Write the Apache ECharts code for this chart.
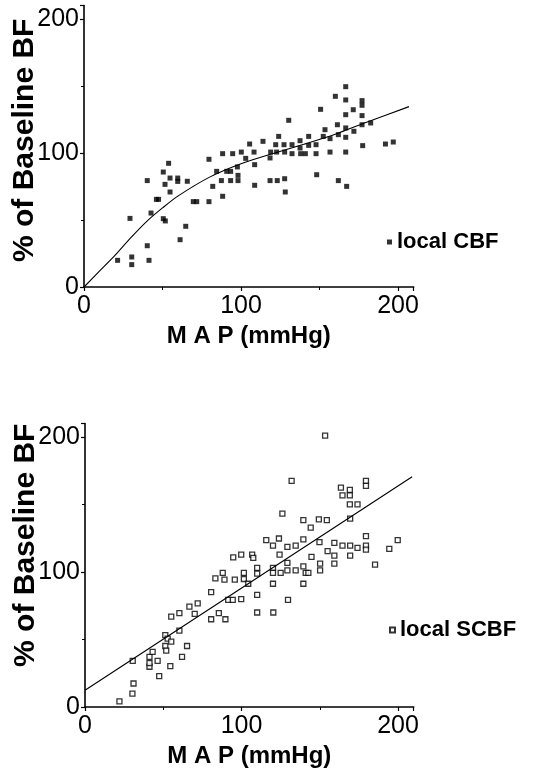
<!DOCTYPE html>
<html><head><meta charset="utf-8">
<script src="https://cdn.jsdelivr.net/npm/echarts@6/dist/echarts.min.js"></script>
<style>html,body{margin:0;padding:0;background:#fff}#c{width:537px;height:778px}</style>
</head><body><div id="c"></div>
<script>
// Top panel: local CBF (MAP mmHg, % of baseline BF)
const cbfMap = [21.4,30.4,30.4,29.3,41.4,40.3,40.3,42.7,46.1,47.5,50.5,51.8,50.5,51.6,53.9,54.8,59.7,59.7,54.8,61.2,64.8,65.8,69.6,71.8,79.6,79.6,82,84.5,87.5,88.3,88.3,90.9,93.4,93.4,94.7,97.7,98.1,98.1,100.2,103,105.5,108.3,108.7,108.7,114,118.5,118.9,118.5,123.1,124,122.1,122.7,127.4,127.8,127.8,128.2,130.4,132.5,132.5,137.6,137.6,138,141,143.1,143.1,147.8,147.8,148.2,150.7,152.4,153.5,156.7,156.7,160.1,161.4,162,162,166.7,166.7,166.7,166.7,166.7,166.7,167.3,171.5,171.9,177.1,177.1,177.1,177.1,177.5,182.6,192,197];
const cbfBF  = [19.9,22.4,16.7,51.2,19.9,30.8,79.4,55.2,65.4,65.4,51,49.3,85.8,76.6,92.3,81.3,81.3,78.8,70.9,35.3,45.3,78.9,63.7,63.7,63.7,95.3,75.1,86.3,79.4,67.7,99.5,86.3,86.3,79.4,99.5,89.6,83.3,79.4,100.7,96,106.7,100.7,91.3,75.9,108.7,96.3,100.7,79.4,79.4,112.4,106.2,100.7,106.2,100.7,80.8,70.9,124.4,106.2,99.5,109.2,103.7,99.5,99.5,112.4,105.7,106.2,99.5,83.8,132.6,112.4,117.4,110.7,100.7,142.3,121.1,113.7,79.4,149.5,139.6,128.6,118.7,111.7,100.7,75.1,132.3,116.2,139.1,135.6,127.9,121.1,105.5,122.4,106.7,108.2];
const cbfCurveX = [0,10,20,30,40,50,60,80,100,120,140,160,180,207];
const cbfCurveY = [0,12,24,37,49,59,68,82,92,99.5,106.5,114,123,134.6];

// Bottom panel: local SCBF
const scbfMap = [22,30.3,31,30.5,41.2,41.2,41.2,43.2,46.4,47.4,51.3,51.3,51.9,52.8,54.5,55.1,55.1,60.3,60.3,62,65.2,66.7,70.1,72,80.6,80.6,83.3,85.5,88,89.1,89.7,91.5,94.4,94.7,95.7,99.8,99.8,101.5,101.5,104.3,106.8,107.5,110,110,110,110,115.8,120.1,120.1,120.1,120.1,120.3,123.9,124.3,125,126.1,129.3,129.3,129.7,129.3,132,134.6,134.6,139.5,139.5,139.5,139.5,141,142.7,144.2,144.7,149.4,149.8,150.2,150.2,153.4,154.5,155,159.3,159.3,159.3,163.5,164.5,164.5,169.2,169.2,169.2,169.4,169.4,169.4,174.1,174.1,179.5,179.5,179.5,179.5,179.5,185.3,194.4,199.8];
const scbfBF  = [4.2,9.9,17.4,34.2,29.8,32.5,37.2,40.9,34.2,22.8,53.3,45.2,41.7,50.6,30.3,48.4,67,56.6,69.5,37.2,45.2,74.4,69,76.7,65,85.1,95.3,69.5,99.3,94.3,65,79.4,79.4,110.9,94.3,112.9,79.9,99.3,94.8,91.3,112.9,110.4,103,98.8,83.1,70,123.6,119.6,103,99.3,91.3,70,124.8,112.9,99.3,143.2,106.7,101.2,79.4,118.6,167.5,119.6,101.2,138.5,124.1,104.2,91.3,99.3,99.3,132.8,111.2,139,122.1,106.2,101.2,201,138.5,115.4,121.6,112.2,106.2,162.5,156.8,119.6,160.8,156.8,150.1,139.5,119.6,112.2,150.1,117.9,167.5,163.8,126.6,119.6,116.6,105.5,117.1,123.6];
const scbfLineX = [0,209];
const scbfLineY = [12.4,170.5];

const xTicks = [0,100,200];
const yTicks = [0,100,200];

const zip = (a,b) => a.map((v,i)=>[v,b[i]]);
const sans = "'Liberation Sans',Arial,sans-serif";

function xAx(gi){
  return {gridIndex:gi,type:'value',min:0,max:210,interval:100,
    axisLine:{lineStyle:{color:'#000',width:1.6}},
    axisTick:{show:true,length:4,lineStyle:{color:'#000',width:1.2}},
    minorTick:{show:true,splitNumber:2,length:3,lineStyle:{color:'#000'}},
    splitLine:{show:false},
    axisLabel:{color:'#000',fontFamily:sans,fontSize:25,margin:7,hideOverlap:false,
      formatter:v=> xTicks.includes(v)?String(v):''},
    name:'M A P (mmHg)',nameLocation:'middle',nameGap:37,nameMoveOverlap:false,
    nameTextStyle:{color:'#000',fontFamily:sans,fontWeight:'bold',fontSize:24,verticalAlign:'top'}};
}
function yAx(gi,pad){
  return {gridIndex:gi,type:'value',min:0,max:210,interval:100,
    axisLine:{show:true,lineStyle:{color:'#000',width:1.6}},
    axisTick:{show:true,length:4,lineStyle:{color:'#000',width:1.2}},
    minorTick:{show:true,splitNumber:2,length:3,lineStyle:{color:'#000'}},
    splitLine:{show:false},
    axisLabel:{color:'#000',fontFamily:sans,fontSize:25,margin:5,hideOverlap:false,
      formatter:v=> yTicks.includes(v)?String(v):''},
    name:'% of Baseline BF',nameLocation:'middle',nameGap:44,nameMoveOverlap:false,
    nameTextStyle:{color:'#000',fontFamily:sans,fontWeight:'bold',fontSize:30,padding:[0,0,0,pad]}};
}

const chart = echarts.init(document.getElementById('c'),null,{renderer:'canvas'});
chart.setOption({
  backgroundColor:'#fff',
  animation:false,
  grid:[
    {left:84,top:5.6,width:329.7,height:281.4,containLabel:false,outerBoundsMode:'none'},
    {left:85,top:423.5,width:328.7,height:283.5,containLabel:false,outerBoundsMode:'none'}
  ],
  xAxis:[xAx(0),xAx(1)],
  yAxis:[yAx(0,12),yAx(1,40)],
  legend:[
    {data:[{name:'local CBF',icon:'rect'}],left:382,top:226,itemWidth:5,itemHeight:5,itemGap:4,
     textStyle:{color:'#000',fontFamily:sans,fontWeight:'bold',fontSize:22}},
    {data:[{name:'local SCBF',icon:'rect'}],left:384,top:614,itemWidth:5,itemHeight:5,itemGap:4,
     textStyle:{color:'#000',fontFamily:sans,fontWeight:'bold',fontSize:22}}
  ],
  series:[
    {name:'local CBF',type:'scatter',xAxisIndex:0,yAxisIndex:0,symbol:'rect',symbolSize:5,
     itemStyle:{color:'#000'},data:zip(cbfMap,cbfBF)},
    {name:'CBF fit',type:'line',xAxisIndex:0,yAxisIndex:0,smooth:0.3,showSymbol:false,
     lineStyle:{color:'#000',width:1.1},data:zip(cbfCurveX,cbfCurveY)},
    {name:'local SCBF',type:'scatter',xAxisIndex:1,yAxisIndex:1,symbol:'rect',symbolSize:5,
     itemStyle:{color:'#fff',borderColor:'#000',borderWidth:1.3},data:zip(scbfMap,scbfBF)},
    {name:'SCBF fit',type:'line',xAxisIndex:1,yAxisIndex:1,showSymbol:false,
     lineStyle:{color:'#000',width:1.1},data:zip(scbfLineX,scbfLineY)}
  ]
});
</script></body></html>
